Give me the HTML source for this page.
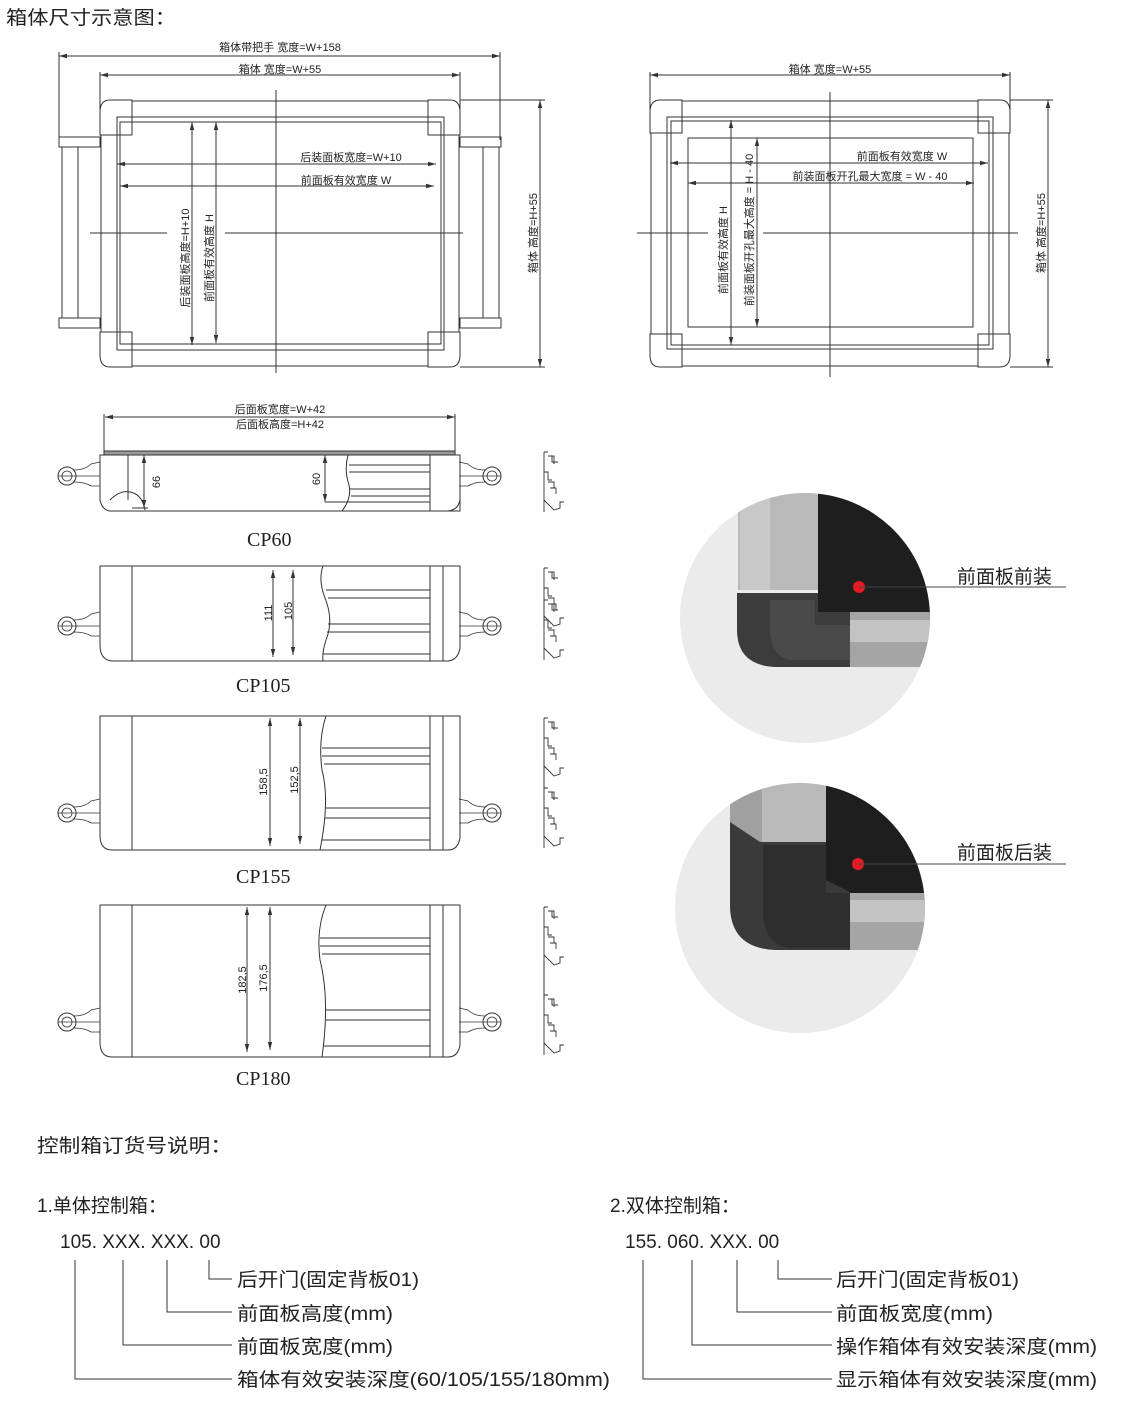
<!DOCTYPE html>
<html><head><meta charset="utf-8"><style>
html,body{margin:0;padding:0;background:#fff;}
svg{display:block;}
text{font-family:"Liberation Sans","Noto Sans CJK SC",sans-serif;fill:#222;}
.s{font-family:"Liberation Serif","Noto Serif CJK SC",serif;}
</style></head><body>
<svg width="1144" height="1412" viewBox="0 0 1144 1412" xmlns="http://www.w3.org/2000/svg">
<defs>
<marker id="a" markerWidth="8" markerHeight="6" refX="8" refY="3" orient="auto-start-reverse"><path d="M0,0.8 L8,3 L0,5.2z" fill="#333"/></marker>
<g id="hl"><circle cx="0" cy="0" r="9" fill="none" stroke="#333" stroke-width="1"/><circle cx="0" cy="0" r="5" fill="none" stroke="#333" stroke-width="0.8"/><path d="M-9,0 H33 M7,-6 Q18,-6 24,-12 L33,-14 M7,6 Q18,6 24,10 L33,10" fill="none" stroke="#333" stroke-width="0.8"/></g>
<g id="prof" fill="none" stroke="#333" stroke-width="0.9"><path d="M0,0 V60 M0,0 H4 M4,4 H10 V12 M8,4 V10 H14 M0,20 H4 V28 H8 M0,48 L10,58 L16,56 V50 H20 M4,30 H10 V36 M6,36 H12 V42"/></g>
<clipPath id="c1"><circle cx="805" cy="618" r="125"/></clipPath>
<clipPath id="c2"><circle cx="800" cy="908" r="125"/></clipPath>
</defs>
<text x="6" y="24" font-size="19" textLength="170" lengthAdjust="spacingAndGlyphs">箱体尺寸示意图：</text>

<!-- Top-left front view -->
<g fill="none" stroke="#333" stroke-width="1">
<line x1="59" y1="56" x2="500" y2="56" marker-start="url(#a)" marker-end="url(#a)"/>
<line x1="59" y1="52" x2="59" y2="140"/><line x1="500" y1="52" x2="500" y2="140"/>
<line x1="100" y1="75" x2="460" y2="75" marker-start="url(#a)" marker-end="url(#a)"/>
<line x1="100" y1="72" x2="100" y2="110"/><line x1="460" y1="72" x2="460" y2="110"/>
<path d="M132,100 H110 Q100,100 100,112 V135 H132 Z M428,100 H450 Q460,100 460,112 V135 H428 Z M132,367 H110 Q100,367 100,355 V332 H132 Z M428,367 H450 Q460,367 460,355 V332 H428 Z"/>
<line x1="132" y1="101" x2="428" y2="101"/><line x1="132" y1="366" x2="428" y2="366"/>
<line x1="101" y1="135" x2="101" y2="332"/><line x1="459" y1="135" x2="459" y2="332"/>
<rect x="117" y="117" width="327" height="233"/>
<rect x="120" y="122" width="321" height="222"/>
<rect x="59" y="137" width="41" height="10"/><rect x="59" y="318" width="41" height="10"/>
<rect x="62" y="147" width="16" height="171"/>
<rect x="460" y="137" width="41" height="10"/><rect x="460" y="318" width="41" height="10"/>
<rect x="483" y="147" width="16" height="171"/>
<line x1="460" y1="100" x2="545" y2="100"/><line x1="460" y1="367" x2="545" y2="367"/>
<line x1="540" y1="100" x2="540" y2="367" marker-start="url(#a)" marker-end="url(#a)"/>
<line x1="276" y1="90" x2="276" y2="373"/>
<line x1="90" y1="233" x2="167" y2="233"/><line x1="225" y1="233" x2="463" y2="233"/>
<line x1="117" y1="164" x2="436" y2="164" marker-start="url(#a)" marker-end="url(#a)"/>
<line x1="120" y1="186" x2="434" y2="186" marker-start="url(#a)" marker-end="url(#a)"/>
<line x1="192" y1="122" x2="192" y2="345" marker-start="url(#a)" marker-end="url(#a)"/>
<line x1="216" y1="122" x2="216" y2="343" marker-start="url(#a)" marker-end="url(#a)"/>
</g>
<text x="280" y="51" font-size="11" text-anchor="middle">箱体带把手  宽度=W+158</text>
<text x="280" y="73" font-size="11" text-anchor="middle">箱体  宽度=W+55</text>
<text x="351" y="161" font-size="11" text-anchor="middle">后装面板宽度=W+10</text>
<text x="346" y="184" font-size="11" text-anchor="middle">前面板有效宽度  W</text>
<text transform="translate(189,258) rotate(-90)" font-size="11" text-anchor="middle">后装面板高度=H+10</text>
<text transform="translate(213,258) rotate(-90)" font-size="11" text-anchor="middle">前面板有效高度  H</text>
<text transform="translate(537,233) rotate(-90)" font-size="11" text-anchor="middle">箱体  高度=H+55</text>

<!-- Top-right front view -->
<g fill="none" stroke="#333" stroke-width="1">
<line x1="650" y1="75" x2="1010" y2="75" marker-start="url(#a)" marker-end="url(#a)"/>
<line x1="650" y1="72" x2="650" y2="110"/><line x1="1010" y1="72" x2="1010" y2="110"/>
<path d="M682,100 H660 Q650,100 650,112 V133 H682 Z M978,100 H1000 Q1010,100 1010,112 V133 H978 Z M682,367 H660 Q650,367 650,355 V334 H682 Z M978,367 H1000 Q1010,367 1010,355 V334 H978 Z"/>
<line x1="682" y1="101" x2="978" y2="101"/><line x1="682" y1="366" x2="978" y2="366"/>
<line x1="651" y1="133" x2="651" y2="334"/><line x1="1009" y1="133" x2="1009" y2="334"/>
<rect x="667" y="117" width="326" height="232"/>
<rect x="671" y="121" width="318" height="224"/>
<rect x="688" y="138" width="285" height="189"/>
<line x1="1010" y1="100" x2="1053" y2="100"/><line x1="1010" y1="367" x2="1053" y2="367"/>
<line x1="1048" y1="100" x2="1048" y2="367" marker-start="url(#a)" marker-end="url(#a)"/>
<line x1="830" y1="92" x2="830" y2="377"/>
<line x1="637" y1="233" x2="708" y2="233"/><line x1="763" y1="233" x2="1018" y2="233"/>
<line x1="670" y1="163" x2="988" y2="163" marker-start="url(#a)" marker-end="url(#a)"/>
<line x1="688" y1="183" x2="974" y2="183" marker-start="url(#a)" marker-end="url(#a)"/>
<line x1="731" y1="120" x2="731" y2="345" marker-start="url(#a)" marker-end="url(#a)"/>
<line x1="757" y1="138" x2="757" y2="327" marker-start="url(#a)" marker-end="url(#a)"/>
</g>
<text x="830" y="73" font-size="11" text-anchor="middle">箱体  宽度=W+55</text>
<text x="902" y="160" font-size="11" text-anchor="middle">前面板有效宽度  W</text>
<text x="870" y="180" font-size="11" text-anchor="middle">前装面板开孔最大宽度  =  W - 40</text>
<text transform="translate(727,250) rotate(-90)" font-size="11" text-anchor="middle">前面板有效高度  H</text>
<text transform="translate(753,230) rotate(-90)" font-size="11" text-anchor="middle">前装面板开孔最大高度  =  H - 40</text>
<text transform="translate(1045,233) rotate(-90)" font-size="11" text-anchor="middle">箱体  高度=H+55</text>

<!-- CP60 -->
<g fill="none" stroke="#333" stroke-width="1">
<line x1="105" y1="417" x2="455" y2="417" marker-start="url(#a)" marker-end="url(#a)"/>
<line x1="104" y1="414" x2="104" y2="452"/><line x1="455" y1="414" x2="455" y2="452"/>
<rect x="104" y="451" width="351" height="4" fill="#999"/>
<path d="M100,455 V500 Q102,510 110,511 H460 V455 Z"/>
<line x1="128" y1="455" x2="128" y2="500"/>
<path d="M110,500 Q120,490 130,492 Q142,494 145,510"/>
<path d="M348,455 Q344,470 349,485 Q352,498 342,511"/>
<line x1="349" y1="465" x2="430" y2="465"/><line x1="349" y1="472" x2="430" y2="472"/><line x1="350" y1="489" x2="430" y2="489"/><line x1="351" y1="496" x2="430" y2="496"/>
<line x1="430" y1="455" x2="430" y2="511"/>
<path d="M445,455 H460 V500 Q458,510 448,511"/>
<line x1="144" y1="455" x2="144" y2="508" marker-start="url(#a)" marker-end="url(#a)"/>
<line x1="325" y1="455" x2="325" y2="502" marker-start="url(#a)" marker-end="url(#a)"/>
<line x1="132" y1="508" x2="148" y2="508"/><line x1="325" y1="502" x2="430" y2="502"/>
<use href="#hl" x="67" y="476"/>
<use href="#hl" x="492" y="476" transform="translate(984,0) scale(-1,1)"/>
<use href="#prof" x="544" y="452"/>
</g>
<text x="280" y="413" font-size="11" text-anchor="middle">后面板宽度=W+42</text>
<text x="280" y="428" font-size="11" text-anchor="middle">后面板高度=H+42</text>
<text transform="translate(160,482) rotate(-90)" font-size="11" text-anchor="middle">66</text>
<text transform="translate(320,479) rotate(-90)" font-size="11" text-anchor="middle">60</text>
<text x="247" y="546" font-size="20" class="s">CP60</text>

<!-- CP105 -->
<g fill="none" stroke="#333" stroke-width="1">
<path d="M100,566 H460 V648 Q458,660 448,661 H112 Q100,660 100,645 Z"/>
<line x1="132" y1="566" x2="132" y2="661"/>
<path d="M323,566 Q318,580 325,598 Q334,620 326,640 Q322,652 323,661"/>
<line x1="326" y1="590" x2="430" y2="590"/><line x1="328" y1="598" x2="430" y2="598"/><line x1="328" y1="624" x2="430" y2="624"/><line x1="327" y1="632" x2="430" y2="632"/><line x1="323" y1="654" x2="430" y2="654"/>
<line x1="430" y1="566" x2="430" y2="661"/><line x1="443" y1="566" x2="443" y2="661"/>
<line x1="273" y1="570" x2="273" y2="657" marker-start="url(#a)" marker-end="url(#a)"/>
<line x1="293" y1="570" x2="293" y2="655" marker-start="url(#a)" marker-end="url(#a)"/>
<use href="#hl" x="67" y="626"/>
<use href="#hl" x="492" y="626" transform="translate(984,0) scale(-1,1)"/>
<use href="#prof" x="544" y="568"/><use href="#prof" x="544" y="600"/>
</g>
<text transform="translate(272,613) rotate(-90)" font-size="11" text-anchor="middle">111</text>
<text transform="translate(292,611) rotate(-90)" font-size="11" text-anchor="middle">105</text>
<text x="236" y="692" font-size="20" class="s">CP105</text>

<!-- CP155 -->
<g fill="none" stroke="#333" stroke-width="1">
<path d="M100,716 H460 V838 Q458,850 448,850 H112 Q100,850 100,835 Z"/>
<line x1="132" y1="716" x2="132" y2="850"/>
<path d="M326,716 Q318,740 322,770 Q330,800 320,850"/>
<line x1="322" y1="748" x2="430" y2="748"/><line x1="322" y1="756" x2="430" y2="756"/><line x1="324" y1="764" x2="430" y2="764"/><line x1="326" y1="808" x2="430" y2="808"/><line x1="325" y1="818" x2="430" y2="818"/><line x1="322" y1="840" x2="430" y2="840"/>
<line x1="430" y1="716" x2="430" y2="850"/><line x1="443" y1="716" x2="443" y2="850"/>
<line x1="270" y1="718" x2="270" y2="846" marker-start="url(#a)" marker-end="url(#a)"/>
<line x1="300" y1="718" x2="300" y2="844" marker-start="url(#a)" marker-end="url(#a)"/>
<use href="#hl" x="67" y="813"/>
<use href="#hl" x="492" y="813" transform="translate(984,0) scale(-1,1)"/>
<use href="#prof" x="544" y="718"/><use href="#prof" x="544" y="788"/><line x1="544" y1="760" x2="544" y2="800"/>
</g>
<text transform="translate(267,782) rotate(-90)" font-size="11" text-anchor="middle">158,5</text>
<text transform="translate(298,780) rotate(-90)" font-size="11" text-anchor="middle">152,5</text>
<text x="236" y="883" font-size="20" class="s">CP155</text>

<!-- CP180 -->
<g fill="none" stroke="#333" stroke-width="1">
<path d="M100,905 H460 V1045 Q458,1057 448,1057 H112 Q100,1057 100,1042 Z"/>
<line x1="132" y1="905" x2="132" y2="1057"/>
<path d="M326,905 Q316,930 320,960 Q330,1000 322,1057"/>
<line x1="320" y1="938" x2="430" y2="938"/><line x1="320" y1="946" x2="430" y2="946"/><line x1="322" y1="954" x2="430" y2="954"/><line x1="326" y1="1010" x2="430" y2="1010"/><line x1="326" y1="1020" x2="430" y2="1020"/><line x1="324" y1="1046" x2="430" y2="1046"/>
<line x1="430" y1="905" x2="430" y2="1057"/><line x1="443" y1="905" x2="443" y2="1057"/>
<line x1="247" y1="907" x2="247" y2="1052" marker-start="url(#a)" marker-end="url(#a)"/>
<line x1="270" y1="907" x2="270" y2="1050" marker-start="url(#a)" marker-end="url(#a)"/>
<use href="#hl" x="67" y="1022"/>
<use href="#hl" x="492" y="1022" transform="translate(984,0) scale(-1,1)"/>
<use href="#prof" x="544" y="907"/><use href="#prof" x="544" y="995"/><line x1="544" y1="960" x2="544" y2="1000"/>
</g>
<text transform="translate(246,980) rotate(-90)" font-size="11" text-anchor="middle">182,5</text>
<text transform="translate(267,978) rotate(-90)" font-size="11" text-anchor="middle">176,5</text>
<text x="236" y="1085" font-size="20" class="s">CP180</text>

<!-- Photo 1 -->
<circle cx="805" cy="618" r="125" fill="#ebebeb"/>
<g clip-path="url(#c1)">
<rect x="738" y="480" width="80" height="110" fill="#b9b9b9"/>
<rect x="740" y="480" width="30" height="110" fill="#c8c8c8"/>
<rect x="818" y="493" width="120" height="127" fill="#1e1e1e"/>
<rect x="820" y="612" width="130" height="55" fill="#a5a5a5"/>
<rect x="820" y="620" width="130" height="22" fill="#c3c3c3"/>
<path d="M737,593 H818 V612 H850 V667 H775 Q737,665 737,630 Z" fill="#3c3c3c"/>
<path d="M770,600 H815 V625 H850 V660 H790 Q770,655 770,630 Z" fill="#4a4a4a"/>
</g>
<circle cx="859" cy="587" r="6" fill="#e31c23"/>
<line x1="859" y1="587" x2="1066" y2="587" stroke="#444" stroke-width="1"/>
<text x="957" y="583" font-size="19">前面板前装</text>

<!-- Photo 2 -->
<circle cx="800" cy="908" r="125" fill="#ebebeb"/>
<g clip-path="url(#c2)">
<rect x="730" y="770" width="98" height="80" fill="#b9b9b9"/>
<rect x="730" y="770" width="32" height="80" fill="#a0a0a0"/>
<rect x="826" y="765" width="120" height="130" fill="#1e1e1e"/>
<rect x="850" y="893" width="100" height="57" fill="#a5a5a5"/>
<rect x="850" y="900" width="100" height="22" fill="#c3c3c3"/>
<path d="M730,822 L760,842 H826 V880 L850,892 V950 H775 Q730,948 730,905 Z" fill="#3a3a3a"/>
<path d="M763,845 H826 V893 H850 V948 H790 Q763,945 763,910 Z" fill="#2e2e2e"/>
</g>
<circle cx="858" cy="864" r="6" fill="#e31c23"/>
<line x1="858" y1="864" x2="1066" y2="864" stroke="#444" stroke-width="1"/>
<text x="957" y="859" font-size="19">前面板后装</text>

<!-- Bottom -->
<text x="37" y="1152" font-size="19" textLength="195" lengthAdjust="spacingAndGlyphs">控制箱订货号说明：</text>
<text x="37" y="1212" font-size="19">1.单体控制箱：</text>
<text x="60" y="1248" font-size="19">105. XXX. XXX. 00</text>
<g fill="none" stroke="#333" stroke-width="1">
<path d="M209,1260 V1279 H232 M167,1260 V1312 H232 M123,1260 V1345 H232 M75,1260 V1379 H232"/>
<path d="M778,1260 V1279 H832 M737,1260 V1312 H832 M692,1260 V1345 H832 M643,1260 V1379 H832"/>
</g>
<g font-size="19">
<text x="237" y="1286" textLength="182" lengthAdjust="spacingAndGlyphs">后开门(固定背板01)</text>
<text x="237" y="1320" textLength="156" lengthAdjust="spacingAndGlyphs">前面板高度(mm)</text>
<text x="237" y="1353" textLength="156" lengthAdjust="spacingAndGlyphs">前面板宽度(mm)</text>
<text x="237" y="1386" textLength="373" lengthAdjust="spacingAndGlyphs">箱体有效安装深度(60/105/155/180mm)</text>
<text x="610" y="1212">2.双体控制箱：</text>
<text x="625" y="1248">155. 060. XXX. 00</text>
<text x="836" y="1286" textLength="183" lengthAdjust="spacingAndGlyphs">后开门(固定背板01)</text>
<text x="836" y="1320" textLength="157" lengthAdjust="spacingAndGlyphs">前面板宽度(mm)</text>
<text x="836" y="1353" textLength="261" lengthAdjust="spacingAndGlyphs">操作箱体有效安装深度(mm)</text>
<text x="836" y="1386" textLength="261" lengthAdjust="spacingAndGlyphs">显示箱体有效安装深度(mm)</text>
</g>
</svg>
</body></html>
